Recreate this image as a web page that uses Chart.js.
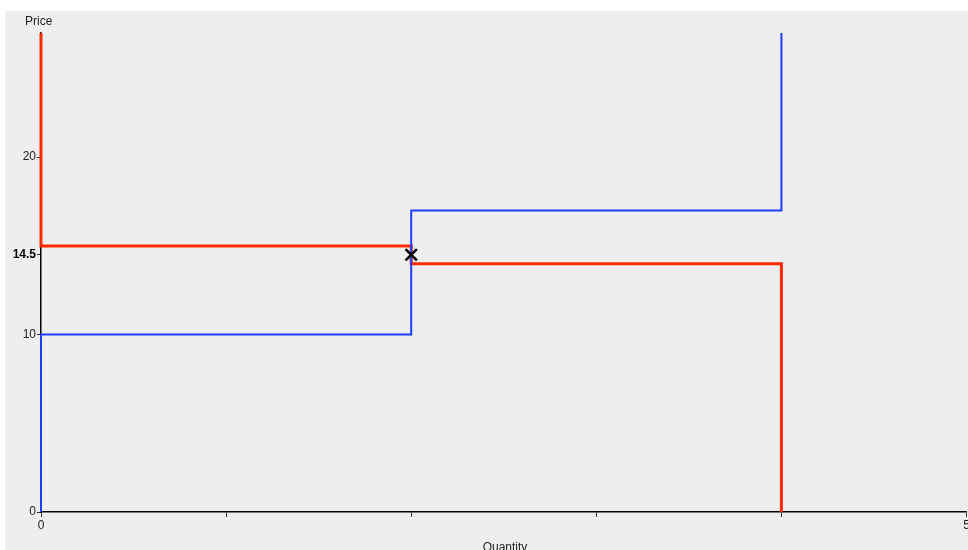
<!DOCTYPE html>
<html lang="en">
<head>
    <meta charset="UTF-8">
    <title>Supply and demand</title>
    <script src="https://cdn.jsdelivr.net/npm/chart.js"></script>
</head>
<style>
    body{
        margin: 0;
        background: #ffffff;
        overflow: hidden;
    }
</style>
<body>
    <canvas id="market" width="977" height="550"></canvas>
</body>
</html>

<script>
    // step curves, corner points
    let supplyQty   = [0, 0, 2, 2, 4, 4];
    let supplyPrice = [0, 10, 10, 17, 17, 27];
    let demandQty   = [0, 0, 2, 2, 4, 4];
    let demandPrice = [27, 15, 15, 14, 14, 0];
    let eqQty = [2];
    let eqPrice = [14.5];
    let yTicks = [0, 10, 14.5, 20];
    let xLabels = [0, 5];

    function toPoints(xs, ys){
        return xs.map((x, i) => ({x: x, y: ys[i]}));
    }

    const background = {
        id: 'background',
        beforeDraw(chart){
            let c = chart.ctx;
            c.save();
            c.fillStyle = '#eeeeee';
            c.fillRect(5, 11, chart.width - 5, chart.height - 11);
            c.restore();
        },
        afterDraw(chart){
            let c = chart.ctx;
            c.save();
            c.fillStyle = '#222';
            c.font = '12px "Liberation Sans", Arial, sans-serif';
            c.textBaseline = 'alphabetic';
            c.textAlign = 'left';
            c.fillText('Price', 25, 25);
            c.textAlign = 'center';
            c.fillText('Quantity', 505, 551);
            c.restore();
        }
    };

    let chart = new Chart(document.getElementById('market'), {
        type: 'line',
        data: {
            datasets: [{
                label: 'Equilibrium',
                data: toPoints(eqQty, eqPrice),
                showLine: false,
                pointStyle: 'crossRot',
                pointRadius: 8,
                borderColor: '#000',
                pointBorderWidth: 2.5,
                clip: false
            },
            {
                label: 'Supply',
                data: toPoints(supplyQty, supplyPrice),
                borderColor: '#1e3cff',
                borderWidth: 2,
                pointRadius: 0,
                clip: false
            },
            {
                label: 'Demand',
                data: toPoints(demandQty, demandPrice),
                borderColor: '#ff2a00',
                borderWidth: 3,
                pointRadius: 0,
                clip: false
            }]
        },
        options: {
            responsive: false,
            animation: false,
            layout: { padding: { top: 33, left: 0, right: 0, bottom: 0 } },
            plugins: {
                legend: { display: false },
                tooltip: { enabled: false }
            },
            scales: {
                x: {
                    type: 'linear',
                    min: 0,
                    max: 5,
                    ticks: {
                        stepSize: 1,
                        padding: 1,
                        color: '#222',
                        font: { size: 12, family: '"Liberation Sans", Arial, sans-serif' },
                        maxRotation: 0,
                        callback: (v) => xLabels.includes(v) ? v : ''
                    },
                    grid: { drawOnChartArea: false, drawTicks: true, tickLength: 5, color: '#333' },
                    border: { display: true, color: '#000', width: 1.5 },
                    afterFit: (s) => { s.height = 38; s.paddingLeft = 0; s.paddingRight = 0; }
                },
                y: {
                    type: 'linear',
                    min: 0,
                    max: 27,
                    afterBuildTicks: (s) => { s.ticks = yTicks.map(v => ({value: v})); },
                    ticks: {
                        padding: 1,
                        color: (ctx) => ctx.tick && ctx.tick.value == 14.5 ? '#000' : '#222',
                        font: (ctx) => ({
                            size: 12,
                            family: '"Liberation Sans", Arial, sans-serif',
                            weight: ctx.tick && ctx.tick.value == 14.5 ? 'bold' : 'normal'
                        }),
                        callback: (v) => v
                    },
                    grid: { drawOnChartArea: false, drawTicks: true, tickLength: 4, color: '#333' },
                    border: { display: true, color: '#000', width: 1.5 },
                    afterFit: (s) => { s.width = 41; s.paddingTop = 0; s.paddingBottom = 0; }
                }
            }
        },
        plugins: [background]
    });
</script>
